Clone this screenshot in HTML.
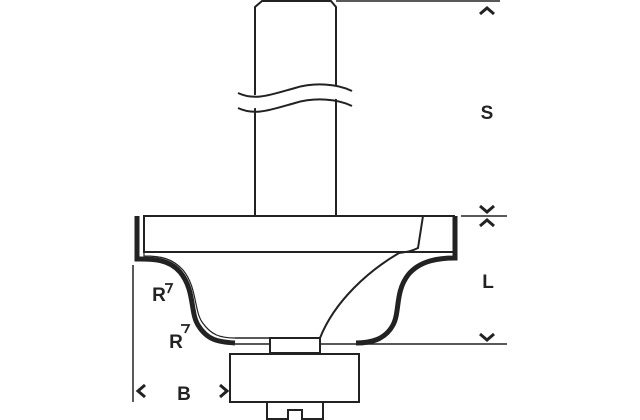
<!DOCTYPE html>
<html><head><style>body{margin:0;background:#fff}svg{display:block}</style></head>
<body>
<svg width="640" height="420" viewBox="0 0 640 420" xmlns="http://www.w3.org/2000/svg">
<g fill="none" stroke="#222" stroke-width="2">
<path d="M255,216 V7 L262,1 H331 L336,7 V216"/>
<line x1="336" y1="1" x2="500" y2="1" stroke-width="1.5"/>
<path d="M238,99 C255,107 270,96 295,91 C315,87 340,92 352,97" stroke="#fff" stroke-width="13"/>
<path d="M238,93 C255,101 270,95 295,88 C315,82 338,84 352,91"/>
<path d="M238,108 C255,116 270,110 295,103 C315,97 338,99 352,106"/>
<rect x="144" y="216" width="310" height="36"/>
<path d="M423,216 L418,248 C410,252 405,252 399,253"/>
<path d="M399,253 C370,270 335,300 320,338"/>
<line x1="461" y1="216" x2="507" y2="216" stroke-width="1.5"/>
<line x1="359" y1="344" x2="507" y2="344" stroke-width="1.5"/>
<path d="M137,216 V259 C150,259 168,258 180,272 C195,290 190,312 198,325 C207,340 218,342 235,343" stroke-width="5"/>
<path d="M144,252 V256 C160,256 172,258 183,270 C197,287 194,310 202,322 C211,335 220,338 235,338" stroke-width="1.2"/>
<path d="M455,216 V258 C440,258 420,260 408,275 C395,292 400,312 393,325 C385,340 370,343 356,343" stroke-width="5"/>
<line x1="235" y1="338" x2="270" y2="338" stroke-width="1.5"/>
<line x1="235" y1="344" x2="270" y2="344" stroke-width="1.5"/>
<line x1="320" y1="344" x2="356" y2="344" stroke-width="1.5"/>
<rect x="270" y="338" width="50" height="15"/>
<rect x="230" y="354" width="129" height="48"/>
<path d="M267,402 V420 M323,402 V420 M267,419 H288 V410 H302 V419 H323"/>
<line x1="133" y1="265" x2="133" y2="402" stroke-width="1.5"/>
<path d="M145,385 L138,391 L145,397" stroke-width="3"/>
<path d="M220,385 L227,391 L220,397" stroke-width="3"/>
<path d="M480,14 L487,8 L494,14" stroke-width="3"/>
<path d="M480,206 L487,212 L494,206" stroke-width="3"/>
<path d="M480,226 L487,220 L494,226" stroke-width="3"/>
<path d="M480,334 L487,340 L494,334" stroke-width="3"/>
<path d="M165,284 H172 L168,293" stroke-width="1.8"/>
<path d="M181,325 H189 L185,333" stroke-width="1.8"/>
</g>
<g font-family="Liberation Sans, sans-serif" font-weight="bold" font-size="19" fill="#222" text-anchor="middle">
<text x="487" y="119">S</text>
<text x="488" y="288">L</text>
<text x="184" y="400">B</text>
<text x="159" y="301">R</text>
<text x="176" y="348">R</text>
</g>
</svg>
</body></html>
